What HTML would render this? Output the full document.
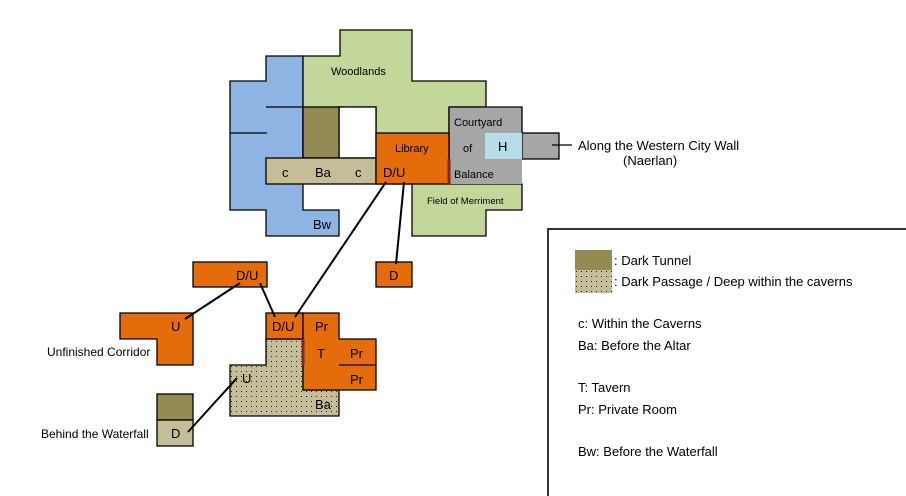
<!DOCTYPE html>
<html><head><meta charset="utf-8"><style>
body{margin:0;background:#fff}
svg{display:block}
text{font-family:"Liberation Sans",sans-serif;fill:#000}
</style></head><body>
<svg width="906" height="496" viewBox="0 0 906 496" xmlns="http://www.w3.org/2000/svg">
<defs>
<pattern id="dots" width="5" height="5" patternUnits="userSpaceOnUse">
<rect width="5" height="5" fill="#c4bd97"/><rect x="1" y="1" width="1" height="1" fill="#222"/>
</pattern>
</defs>
<g stroke="#000" stroke-width="1.3">
<polygon points="266,56 303,56 303,210 339,210 339,236 266,236 266,210 230,210 230,81 266,81" fill="#8db4e2"/>
<line x1="266" y1="107" x2="303" y2="107"/>
<line x1="230" y1="133" x2="267" y2="133"/>
<polygon points="340,30 412,30 412,81 486,81 486,107 449,107 449,184 522,184 522,210 486,210 486,236 412,236 412,184 376,184 376,107 339,107 339,158 303,158 303,56 340,56" fill="#c4d79b"/>
<rect x="339" y="107" width="37" height="51" fill="#fff"/>
<rect x="303" y="107" width="36" height="51" fill="#948a54"/>
<rect x="522" y="133" width="37" height="26" fill="#a6a6a6"/>
<rect x="449" y="107" width="73" height="77" fill="#a6a6a6" stroke="none"/>
<polyline points="449,107 522,107 522,133" fill="none"/>
<polyline points="449,184 449,107" fill="none"/>
<rect x="485" y="133" width="37" height="26" fill="#b7dee8" stroke="none"/>
<rect x="266" y="158" width="110" height="26" fill="#c4bd97"/>
<rect x="376" y="133" width="73" height="51" fill="#e46c0a"/>
<line x1="449" y1="159" x2="449" y2="184" stroke="#7a2a20" stroke-width="3"/>
<line x1="552" y1="145" x2="572" y2="145"/>
<rect x="193" y="262" width="74" height="25" fill="#e46c0a"/>
<rect x="376" y="262" width="36" height="25" fill="#e46c0a"/>
<polygon points="120,313 193,313 193,365 157,365 157,339 120,339" fill="#e46c0a"/>
<polygon points="266,339 303,339 303,390 339,390 339,416 230,416 230,365 266,365" fill="url(#dots)"/>
<rect x="266" y="313" width="37" height="26" fill="#e46c0a"/>
<polygon points="303,313 339,313 339,339 376,339 376,390 303,390" fill="#e46c0a"/>
<line x1="339" y1="365" x2="376" y2="365"/>
<line x1="303" y1="339" x2="303" y2="365" stroke="#7a2a20" stroke-width="3"/>
<rect x="157" y="394" width="36" height="26" fill="#948a54"/>
<rect x="157" y="420" width="36" height="26" fill="#c4bd97"/>
<g stroke-width="2">
<line x1="386" y1="182" x2="295" y2="317"/>
<line x1="404" y1="182" x2="396" y2="264"/>
<line x1="240" y1="283" x2="185" y2="319"/>
<line x1="260" y1="283" x2="275" y2="317"/>
<line x1="237" y1="378" x2="188" y2="432"/>
</g>
<rect x="548" y="229" width="370" height="280" fill="#fff" stroke="#333" stroke-width="2"/>
<rect x="575" y="250" width="37" height="20" fill="#948a54" stroke="none"/>
<rect x="575" y="270" width="37" height="23" fill="url(#dots)" stroke="none"/>
</g>
<g font-size="11">
<text x="331" y="75">Woodlands</text>
<text x="395" y="152">Library</text>
<text x="454" y="126">Courtyard</text>
<text x="463" y="152">of</text>
<text x="454" y="178">Balance</text>
<text x="427" y="204" font-size="9.5">Field of Merriment</text>
</g>
<g font-size="13">
<text x="498" y="151">H</text>
<text x="282" y="177">c</text>
<text x="315" y="177">Ba</text>
<text x="355" y="177">c</text>
<text x="383" y="177">D/U</text>
<text x="313" y="229">Bw</text>
<text x="236" y="280">D/U</text>
<text x="389" y="280">D</text>
<text x="171" y="331">U</text>
<text x="272" y="331">D/U</text>
<text x="315" y="331">Pr</text>
<text x="317" y="358">T</text>
<text x="350" y="358">Pr</text>
<text x="350" y="384">Pr</text>
<text x="242" y="383">U</text>
<text x="315" y="409">Ba</text>
<text x="171" y="438">D</text>
</g>
<g font-size="13">
<text x="578" y="150">Along the Western City Wall</text>
<text x="623" y="165">(Naerlan)</text>
<text x="47" y="356" font-size="12">Unfinished Corridor</text>
<text x="41" y="438" font-size="12">Behind the Waterfall</text>
<text x="614" y="265">: Dark Tunnel</text>
<text x="614" y="286">: Dark Passage / Deep within the caverns</text>
<text x="578" y="328">c: Within the Caverns</text>
<text x="578" y="350">Ba: Before the Altar</text>
<text x="578" y="392">T: Tavern</text>
<text x="578" y="414">Pr: Private Room</text>
<text x="578" y="456">Bw: Before the Waterfall</text>
</g>
</svg>
</body></html>
